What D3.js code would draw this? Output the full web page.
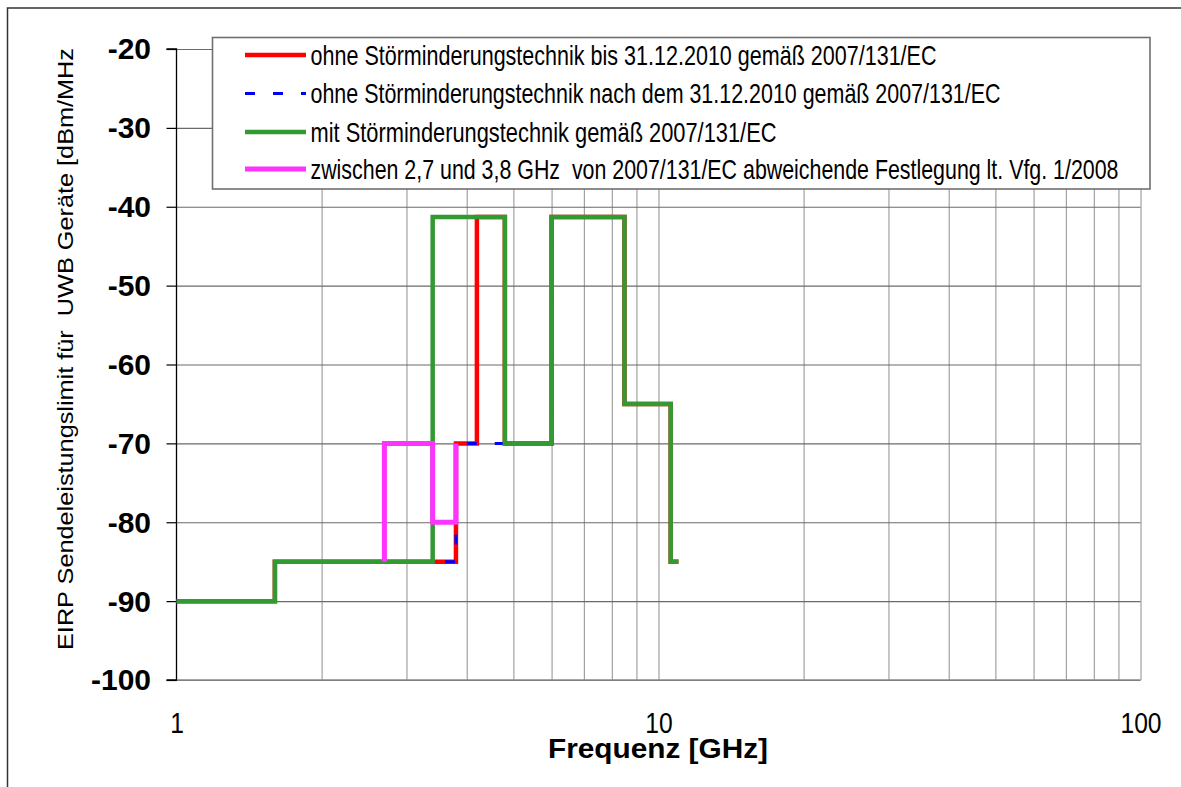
<!DOCTYPE html>
<html>
<head>
<meta charset="utf-8">
<script src="https://cdn.jsdelivr.net/npm/d3@7/dist/d3.min.js"></script>
<style>
  html, body { margin: 0; padding: 0; background: #fff; }
  svg { display: block; font-family: "Liberation Sans", Arial, sans-serif; }
</style>
</head>
<body>
<svg id="chart" width="1181" height="787"></svg>
<script>
// ---------------- data ----------------
const yTickValues = [-100, -90, -80, -70, -60, -50, -40, -30, -20];
const xTickValues = [1, 10, 100];
const xGridValues = [2, 3, 4, 5, 6, 7, 8, 9, 10, 20, 30, 40, 50, 60, 70, 80, 90, 100];

// step series: each level holds from its frequency up to the next frequency
const redFreq   = [1, 1.6, 3.8, 4.2, 4.8, 6.0, 8.5, 10.6, 11];
const redLevel  = [-90, -85, -70, -41.3, -70, -41.3, -65, -85, -85];

const blueFreq  = [1, 1.6, 3.8, 6.0, 8.5, 10.6, 11];
const blueLevel = [-90, -85, -70, -41.3, -65, -85, -85];

const greenFreq  = [1, 1.6, 3.4, 4.8, 6.0, 8.5, 10.6, 11];
const greenLevel = [-90, -85, -41.3, -70, -41.3, -65, -85, -85];

const magentaFreq  = [2.7, 2.7, 3.4, 3.8];
const magentaLevel = [-85, -70, -80, -70];

const legendLabels = [
  "ohne Störminderungstechnik bis 31.12.2010 gemäß 2007/131/EC",
  "ohne Störminderungstechnik nach dem 31.12.2010 gemäß 2007/131/EC",
  "mit Störminderungstechnik gemäß 2007/131/EC",
  "zwischen 2,7 und 3,8 GHz  von 2007/131/EC abweichende Festlegung lt. Vfg. 1/2008"
];
const yTitle = "EIRP Sendeleistungslimit für  UWB Geräte [dBm/MHz";
const xTitle = "Frequenz [GHz]";

// ---------------- layout ----------------
const svg = d3.select("#chart");
const L = 176.5, R = 1140.5, T = 49, B = 680;
const x = d3.scaleLog().domain([1, 100]).range([L, R]);
const y = d3.scaleLinear().domain([-100, -20]).range([B, T]);
const plainFmt = d => String(d);

// outer frame
svg.append("rect").attr("x", 7.5).attr("y", 8).attr("width", 1300).attr("height", 900)
  .attr("fill", "none").attr("stroke", "#333").attr("stroke-width", 1.5);

// vertical grid
svg.append("g").attr("transform", `translate(0,${B})`)
  .call(d3.axisBottom(x).tickValues(xGridValues).tickSize(-(B - T)).tickFormat(""))
  .call(g => g.select(".domain").remove())
  .call(g => g.selectAll(".tick line").attr("stroke", "#8e8e8e").attr("stroke-width", 1));

// horizontal grid
svg.append("g").attr("transform", `translate(${L},0)`)
  .call(d3.axisLeft(y).tickValues(yTickValues).tickSize(-(R - L)).tickFormat(""))
  .call(g => g.select(".domain").remove())
  .call(g => g.selectAll(".tick line").attr("stroke", "#6a6a6a").attr("stroke-width", 1.2));

// bottom border
svg.append("line").attr("x1", L).attr("x2", R).attr("y1", B).attr("y2", B)
  .attr("stroke", "#888").attr("stroke-width", 1.5);

// y axis with ticks and labels
const yAx = svg.append("g").attr("transform", `translate(${L},0)`)
  .call(d3.axisLeft(y).tickValues(yTickValues).tickSize(10).tickPadding(15.5).tickFormat(plainFmt));
yAx.select(".domain").attr("stroke", "#000").attr("stroke-width", 1.3).attr("d", `M-10,${B}H0V${T}H-10`);
yAx.selectAll(".tick line").attr("stroke", "#000").attr("stroke-width", 1.2);
yAx.selectAll(".tick text").attr("font-size", 30).attr("font-weight", "bold")
  .attr("fill", "#000").attr("font-family", "Liberation Sans, Arial, sans-serif").attr("dy", "0.33em");

// x axis labels
const xAx = svg.append("g").attr("transform", `translate(0,${B})`)
  .call(d3.axisBottom(x).tickValues(xTickValues).tickSize(0).tickFormat(plainFmt));
xAx.select(".domain").remove();
xAx.selectAll(".tick text").attr("font-size", 29).attr("fill", "#000")
  .attr("font-family", "Liberation Sans, Arial, sans-serif")
  .attr("y", 53).attr("dy", 0)
  .each(function() {
    const w = this.getComputedTextLength();
    d3.select(this).attr("textLength", w * 0.85).attr("lengthAdjust", "spacingAndGlyphs");
  });

// ---------------- series ----------------
const stepLine = d3.line().x(d => x(d[0])).y(d => y(d[1])).curve(d3.curveStepAfter);
const zip = (a, b) => a.map((v, i) => [v, b[i]]);

const series = [
  { pts: zip(redFreq, redLevel), color: "#ff0000", width: 4.5, dash: null },
  { pts: zip(blueFreq, blueLevel), color: "#0000ff", width: 3, dash: "10,18" },
  { pts: zip(greenFreq, greenLevel), color: "#339933", width: 4.5, dash: null },
  { pts: zip(magentaFreq, magentaLevel), color: "#ff33ff", width: 5, dash: null }
];

svg.append("g").selectAll("path").data(series).join("path")
  .attr("d", d => stepLine(d.pts))
  .attr("fill", "none")
  .attr("stroke", d => d.color)
  .attr("stroke-width", d => d.width)
  .attr("stroke-dasharray", d => d.dash)
  .attr("stroke-linejoin", "miter")
  .attr("stroke-linecap", "butt");

// ---------------- legend ----------------
const legend = svg.append("g");
legend.append("rect").attr("x", 212.5).attr("y", 37.5).attr("width", 937.5).attr("height", 151.5)
  .attr("fill", "#fff").attr("stroke", "#707070").attr("stroke-width", 1.6);
const legendY = [55, 93.5, 132, 169];
const legendWidths = [626, 690, 466, 808];
series.forEach((s, i) => {
  legend.append("line")
    .attr("x1", 245).attr("x2", 306).attr("y1", legendY[i]).attr("y2", legendY[i])
    .attr("stroke", s.color).attr("stroke-width", s.width).attr("stroke-dasharray", s.dash);
  legend.append("text")
    .attr("x", 310.5).attr("y", legendY[i] + 9.5)
    .attr("font-size", 28).attr("fill", "#000")
    .attr("xml:space", "preserve").style("white-space", "pre")
    .attr("textLength", legendWidths[i]).attr("lengthAdjust", "spacingAndGlyphs")
    .text(legendLabels[i]);
});

// ---------------- titles ----------------
svg.append("text")
  .attr("transform", "translate(72.5,349) rotate(-90)")
  .attr("text-anchor", "middle").attr("font-size", 22).attr("fill", "#000")
  .style("white-space", "pre")
  .attr("textLength", 602).attr("lengthAdjust", "spacingAndGlyphs")
  .text(yTitle);

svg.append("text")
  .attr("x", 658).attr("y", 758).attr("text-anchor", "middle")
  .attr("font-size", 28).attr("font-weight", "bold").attr("fill", "#000")
  .attr("textLength", 220).attr("lengthAdjust", "spacingAndGlyphs")
  .text(xTitle);
</script>
</body>
</html>
